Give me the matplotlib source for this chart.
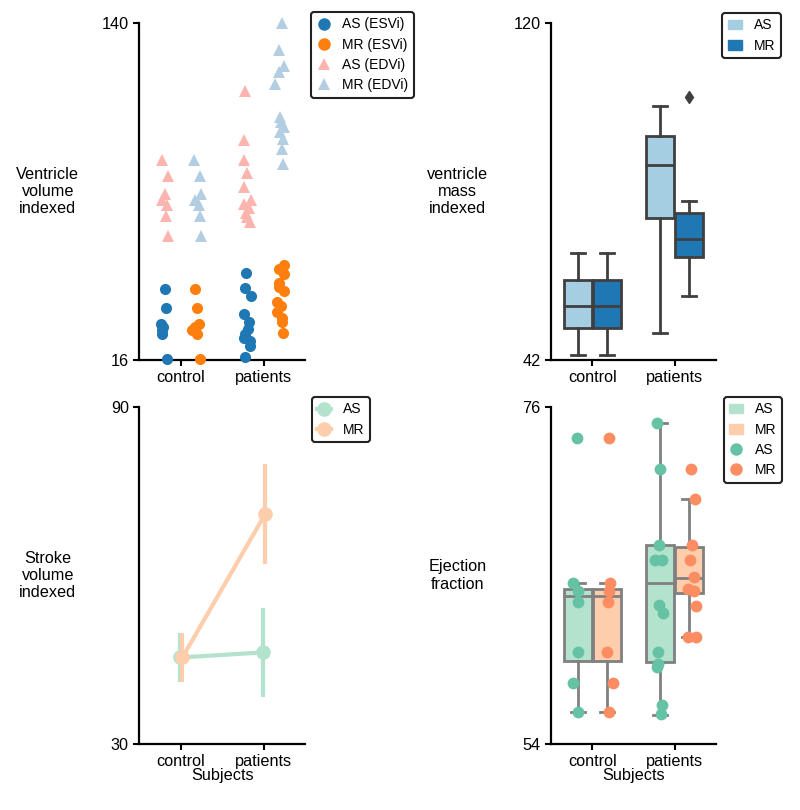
import numpy as np
import matplotlib
matplotlib.use('Agg')
import matplotlib.pyplot as plt
from matplotlib.lines import Line2D
from matplotlib.patches import Patch

plt.rcParams['font.family'] = ['Liberation Sans', 'DejaVu Sans']
plt.rcParams['font.size'] = 11.7

groups = ['control', 'patients']

# --- ventricle volume (ESVi / EDVi), control values shared by AS and MR
esvi_control = [42.0, 35.0, 29.3, 28.0, 27.0, 25.5, 16.5]
edvi_control = [89.5, 83.6, 77.0, 75.0, 73.0, 68.8, 61.8]
esvi_as_pat = [47.9, 42.5, 39.7, 33.0, 30.0, 27.5, 25.5, 24.0, 23.0, 21.0, 17.0]
esvi_mr_pat = [51.0, 49.5, 47.8, 44.5, 43.0, 41.5, 37.5, 36.0, 33.5, 31.5, 29.8, 25.8]
edvi_as_pat = [114.9, 96.8, 89.7, 84.9, 79.6, 74.7, 73.5, 72.0, 70.0, 68.5, 66.7]
edvi_mr_pat = [140.0, 130.0, 124.0, 122.0, 117.7, 105.5, 103.5, 101.7, 100.0, 97.4, 93.7, 88.0]

# --- ventricle mass box stats: whislo, q1, med, q3, whishi
mass_as = [[43.2, 49.3, 54.6, 60.4, 66.8], [48.2, 74.8, 87.2, 93.9, 100.8]]
mass_mr = [[43.2, 49.3, 54.6, 60.4, 66.8], [56.9, 65.8, 69.9, 76.1, 78.8]]
mass_mr_fliers = [[], [102.8]]

# --- stroke volume indexed (mean, ci low, ci high)
sv_as_mean = [45.4, 46.3]
sv_as_lo = [40.96, 38.3]
sv_as_hi = [49.85, 54.3]
sv_mr_mean = [45.4, 71.0]
sv_mr_lo = [40.96, 62.1]
sv_mr_hi = [49.85, 79.9]

# --- ejection fraction
ef_control = [74.0, 64.5, 64.0, 63.3, 60.0, 58.0, 56.1]
ef_as_pat = [74.96, 71.96, 66.96, 66.0, 66.0, 63.06, 62.58, 60.01, 59.21, 59.0, 56.54, 55.95]
ef_mr_pat = [71.98, 70.0, 66.96, 66.0, 64.92, 64.1, 64.0, 63.0, 61.0, 61.0]
ef_as_box = [[56.06, 59.43, 63.66, 64.1, 64.49], [55.89, 59.36, 64.49, 66.96, 74.96]]
ef_mr_box = [[56.06, 59.43, 63.66, 64.1, 64.49], [61.01, 63.88, 64.86, 66.88, 70.0]]

# jitter offsets (x positions only)
jit_esvi_c_as = [0.012, 0.02, -0.04, -0.012, -0.024, -0.024, 0.032]
jit_esvi_c_mr = [-0.025, -0.005, 0.025, -0.025, -0.06, 0.0, 0.035]
jit_edvi_c_as = [-0.02, 0.048, 0.008, -0.03, 0.03, 0.02, 0.048]
jit_edvi_c_mr = [-0.045, 0.035, 0.043, -0.025, 0.015, 0.035, 0.043]
jit_esvi_p_as = [-0.01, -0.023, 0.045, -0.043, 0.017, 0.005, -0.02, -0.04, 0.04, 0.035, -0.02]
jit_esvi_p_mr = [0.05, -0.02, 0.05, -0.01, -0.02, 0.05, -0.04, 0.008, -0.04, 0.02, 0.02, 0.033]
jit_edvi_p_as = [-0.025, -0.035, -0.032, -0.003, -0.032, 0.045, -0.043, 0.017, -0.01, -0.003, 0.037]
jit_edvi_p_mr = [0.025, -0.012, 0.04, -0.012, -0.06, -0.008, 0.012, 0.04, 0.0, 0.028, 0.02, 0.033]
jit_ef_c_as = [0.008, -0.04, 0.032, 0.02, 0.028, -0.04, 0.02]
jit_ef_c_mr = [0.008, 0.017, 0.0, -0.012, -0.025, 0.05, 0.0]
jit_ef_p_as = [-0.018, 0.023, 0.01, -0.04, 0.044, 0.015, 0.056, -0.005, -0.005, -0.01, 0.05, 0.03]
jit_ef_p_mr = [0.004, 0.053, 0.012, -0.008, 0.04, -0.03, 0.032, 0.062, -0.03, 0.062]

fig = plt.figure(figsize=(8, 8.1), dpi=100)
ax1 = fig.add_axes([0.174, 0.5556, 0.2075, 0.416])
ax2 = fig.add_axes([0.689, 0.5556, 0.2055, 0.416])
ax3 = fig.add_axes([0.174, 0.0815, 0.2075, 0.416])
ax4 = fig.add_axes([0.689, 0.0815, 0.2055, 0.416])

c_as, c_mr = '#1f77b4', '#ff7f0e'
c_as_ed, c_mr_ed = '#fbb4ae', '#b3cde3'


def strip(ax, xc, vals, jit, color, marker, size=8):
    xs = xc + np.array(jit)
    ax.plot(xs, vals, linestyle='none', marker=marker, markersize=size,
            color=color, markeredgewidth=0, clip_on=False, zorder=3)


def style(ax, lo, hi, ylabel, xlabel=None, lx=-0.55):
    for s in ['top', 'right']:
        ax.spines[s].set_visible(False)
    for s in ['left', 'bottom']:
        ax.spines[s].set_linewidth(1.6)
    ax.set_ylim(lo, hi)
    ax.set_yticks([lo, hi])
    ax.set_xlim(-0.5, 1.5)
    ax.set_xticks([0, 1])
    ax.set_xticklabels(groups)
    ax.tick_params(width=1.5, length=4)
    ax.set_ylabel(ylabel, rotation=0, ha='center', va='center')
    ax.yaxis.set_label_coords(lx, 0.5)
    if xlabel:
        ax.set_xlabel(xlabel, labelpad=-1)


def legend(ax, handles, labels, anchor):
    leg = ax.legend(handles, labels, loc='upper left', bbox_to_anchor=anchor,
                    borderaxespad=0, fontsize=10, frameon=True, fancybox=True,
                    handletextpad=0.85, borderpad=0.4, handlelength=1.0,
                    labelspacing=0.45)
    leg.get_frame().set_edgecolor('#222222')
    leg.get_frame().set_linewidth(1.5)
    leg.get_frame().set_alpha(1)


# ---- ventricle volume
strip(ax1, -0.2, esvi_control, jit_esvi_c_as, c_as, 'o')
strip(ax1, 0.2, esvi_control, jit_esvi_c_mr, c_mr, 'o')
strip(ax1, 0.8, esvi_as_pat, jit_esvi_p_as, c_as, 'o')
strip(ax1, 1.2, esvi_mr_pat, jit_esvi_p_mr, c_mr, 'o')
strip(ax1, -0.2, edvi_control, jit_edvi_c_as, c_as_ed, '^')
strip(ax1, 0.2, edvi_control, jit_edvi_c_mr, c_mr_ed, '^')
strip(ax1, 0.8, edvi_as_pat, jit_edvi_p_as, c_as_ed, '^')
strip(ax1, 1.2, edvi_mr_pat, jit_edvi_p_mr, c_mr_ed, '^')
style(ax1, 16, 140, 'Ventricle\nvolume\nindexed')
h1 = [Line2D([], [], ls='none', marker='o', ms=9, color=c_as, mew=0),
      Line2D([], [], ls='none', marker='o', ms=9, color=c_mr, mew=0),
      Line2D([], [], ls='none', marker='^', ms=9, color=c_as_ed, mew=0),
      Line2D([], [], ls='none', marker='^', ms=9, color=c_mr_ed, mew=0)]
legend(ax1, h1, ['AS (ESVi)', 'MR (ESVi)', 'AS (EDVi)', 'MR (EDVi)'], (1.036, 1.033))


# ---- box helper
def boxes(ax, stats_list, fliers, offset, face, edge):
    stats = []
    for i, s in enumerate(stats_list):
        stats.append(dict(whislo=s[0], q1=s[1], med=s[2], q3=s[3], whishi=s[4],
                          fliers=fliers[i] if fliers else []))
    lp = dict(color=edge, linewidth=2)
    ax.bxp(stats, positions=[i + offset for i in range(len(stats))], widths=0.343,
           patch_artist=True, boxprops=dict(facecolor=face, edgecolor=edge, linewidth=2),
           medianprops=lp, whiskerprops=lp, capprops=lp,
           flierprops=dict(marker='d', markerfacecolor=edge, markeredgecolor=edge, markersize=6),
           manage_ticks=False, zorder=2)


# ---- ventricle mass
boxes(ax2, mass_as, None, -0.175, '#a6cee3', '#3f3f3f')
boxes(ax2, mass_mr, mass_mr_fliers, 0.175, '#1f78b4', '#3f3f3f')
style(ax2, 42, 120, 'ventricle\nmass\nindexed', lx=-0.57)
legend(ax2, [Patch(color='#a6cee3'), Patch(color='#1f78b4')], ['AS', 'MR'], (1.041, 1.03))

# ---- stroke volume
p_as, p_mr = '#b3e2cd', '#fdcdac'
xs = np.arange(len(groups))
for mean, lo, hi, col, off in [(sv_as_mean, sv_as_lo, sv_as_hi, p_as, -0.01),
                                (sv_mr_mean, sv_mr_lo, sv_mr_hi, p_mr, 0.02)]:
    ax3.vlines(xs + off, lo, hi, color=col, linewidth=3)
    ax3.plot(xs + off, mean, color=col, linewidth=3, marker='o', markersize=9.5)
style(ax3, 30, 90, 'Stroke\nvolume\nindexed', 'Subjects')
h3 = [Line2D([], [], color=p_as, marker='o', ms=9.5, lw=3),
      Line2D([], [], color=p_mr, marker='o', ms=9.5, lw=3)]
legend(ax3, h3, ['AS', 'MR'], (1.04, 1.03))

# ---- ejection fraction
boxes(ax4, ef_as_box, None, -0.175, p_as, '#808080')
boxes(ax4, ef_mr_box, None, 0.175, p_mr, '#808080')
s_as, s_mr = '#66c2a5', '#fc8d62'
strip(ax4, -0.2, ef_control, jit_ef_c_as, s_as, 'o', 8.5)
strip(ax4, 0.2, ef_control, jit_ef_c_mr, s_mr, 'o', 8.5)
strip(ax4, 0.8, ef_as_pat, jit_ef_p_as, s_as, 'o', 8.5)
strip(ax4, 1.2, ef_mr_pat, jit_ef_p_mr, s_mr, 'o', 8.5)
style(ax4, 54, 76, 'Ejection\nfraction', 'Subjects', lx=-0.57)
h4 = [Patch(color=p_as), Patch(color=p_mr),
      Line2D([], [], ls='none', marker='o', ms=9, color=s_as, mew=0),
      Line2D([], [], ls='none', marker='o', ms=9, color=s_mr, mew=0)]
legend(ax4, h4, ['AS', 'MR', 'AS', 'MR'], (1.05, 1.03))

fig.savefig('out.png', dpi=100)
